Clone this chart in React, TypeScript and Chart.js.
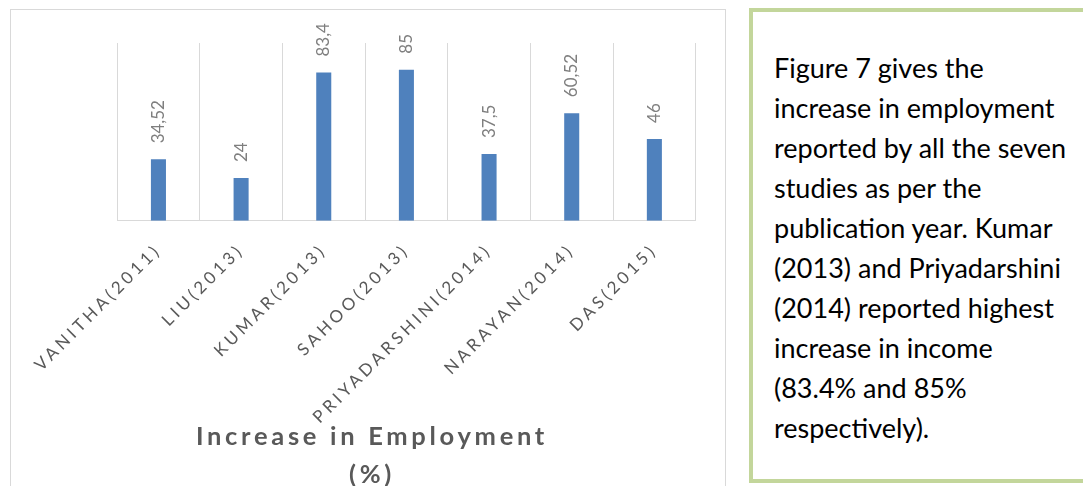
import React, { useEffect, useRef } from "react";
import { Chart, registerables } from "chart.js";

Chart.register(...registerables);

const categories = [
  "VANITHA(2011)",
  "LIU(2013)",
  "KUMAR(2013)",
  "SAHOO(2013)",
  "PRIYADARSHINI(2014)",
  "NARAYAN(2014)",
  "DAS(2015)",
];
const employmentIncrease = [34.52, 24, 83.4, 85, 37.5, 60.52, 46];
const chartTitle = ["Increase in Employment", "(%)"];
const yMin = 0;
const yMax = 100;
const noteLines = [
  "Figure 7 gives the",
  "increase in employment",
  "reported by all the seven",
  "studies as per the",
  "publication year. Kumar",
  "(2013) and Priyadarshini",
  "(2014) reported highest",
  "increase in income",
  "(83.4% and 85%",
  "respectively).",
];

const SPACING = "3.7px";

const spacingPlugin = {
  id: "letterSpacing",
  beforeLayout(chart: any) {
    chart.ctx.letterSpacing = SPACING;
  },
  afterLayout(chart: any) {
    chart.ctx.letterSpacing = "0px";
  },
  beforeDraw(chart: any) {
    chart.ctx.letterSpacing = SPACING;
  },
  beforeDatasetsDraw(chart: any) {
    chart.ctx.letterSpacing = "0px";
  },
};

const valueLabelPlugin = {
  id: "valueLabels",
  afterDatasetsDraw(chart: any) {
    const ctx = chart.ctx;
    const meta = chart.getDatasetMeta(0);
    const values = chart.data.datasets[0].data;
    ctx.save();
    ctx.letterSpacing = "0px";
    ctx.font = "17px Lato";
    ctx.fillStyle = "#7f7f7f";
    ctx.textAlign = "left";
    ctx.textBaseline = "middle";
    meta.data.forEach((bar: any, i: number) => {
      ctx.save();
      ctx.translate(bar.x, bar.y - 16);
      ctx.rotate(-Math.PI / 2);
      ctx.fillText(String(values[i]).replace(".", ","), 0, 0);
      ctx.restore();
    });
    ctx.restore();
  },
};

function BarChart() {
  const ref = useRef<HTMLCanvasElement>(null);
  useEffect(() => {
    if (!ref.current) return;
    const chart = new Chart(ref.current, {
      type: "bar",
      data: {
        labels: categories,
        datasets: [
          {
            data: employmentIncrease,
            backgroundColor: "#4f81bd",
            borderWidth: 0,
            categoryPercentage: 1,
            barPercentage: 0.182,
          },
        ],
      },
      options: {
        animation: false,
        responsive: false,
        maintainAspectRatio: false,
        layout: { padding: { left: 37.3, right: 29.3, top: 33, bottom: 6 } },
        plugins: {
          legend: { display: false },
          tooltip: { enabled: false },
          title: {
            display: true,
            position: "bottom",
            text: chartTitle,
            color: "#595959",
            font: { family: "Lato", size: 25.5, weight: "bold", lineHeight: 1.49 },
            padding: { top: -12, bottom: 0 },
          },
        },
        scales: {
          x: {
            grid: { display: true, offset: true, color: "#d9d9d9", drawTicks: false, lineWidth: 1 },
            border: { display: true, color: "#d9d9d9" },
            ticks: {
              autoSkip: false,
              maxRotation: 45,
              minRotation: 45,
              color: "#595959",
              font: { family: "Lato", size: 17 },
              padding: 19,
            },
            afterFit: (s: any) => {
              s.height = 209.3;
            },
          },
          y: {
            display: true,
            min: yMin,
            max: yMax,
            ticks: { display: false },
            grid: { display: false },
            border: { display: false },
            afterFit: (s: any) => {
              s.width = 68.2;
            },
          },
        },
      },
      plugins: [spacingPlugin, valueLabelPlugin],
    } as any);
    return () => chart.destroy();
  }, []);
  return <canvas ref={ref} width={714} height={490} style={{ display: "block" }} />;
}

export default function App() {
  return (
    <div style={{ position: "absolute", left: 0, top: 0, width: 1083, height: 486, overflow: "hidden", background: "#fff" }}>
      <div
        style={{
          position: "absolute",
          left: 10,
          top: 9,
          width: 716,
          height: 520,
          border: "1px solid #d9d9d9",
          boxSizing: "border-box",
        }}
      >
        <BarChart />
      </div>
      <div
        style={{
          position: "absolute",
          left: 749,
          top: 8,
          width: 340,
          height: 475,
          borderTop: "4px solid #c3d69b",
          borderLeft: "4px solid #c3d69b",
          borderBottom: "4px solid #c3d69b",
          borderRight: "none",
          boxSizing: "border-box",
        }}
      />
      <div
        style={{
          position: "absolute",
          left: 774,
          top: 48,
          fontFamily: "Lato",
          fontSize: 27,
          lineHeight: "40px",
          color: "#000",
        }}
      >
        {noteLines.map((l, i) => (
          <div key={i} style={{ whiteSpace: "nowrap" }}>
            {l}
          </div>
        ))}
      </div>
    </div>
  );
}
